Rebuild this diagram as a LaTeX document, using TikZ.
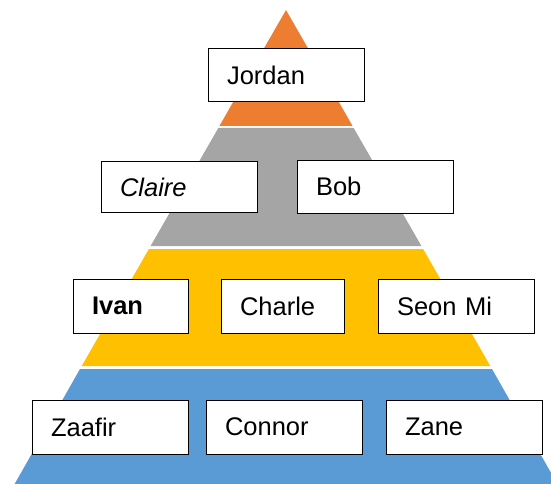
\documentclass[tikz,border=0pt]{standalone}
\usepackage{fontspec}
\setmainfont{Liberation Sans}
\definecolor{tierorange}{HTML}{ED7D31}
\definecolor{tiergray}{HTML}{A5A5A5}
\definecolor{tiergold}{HTML}{FFC000}
\definecolor{tierblue}{HTML}{5B9BD5}
\tikzset{
  namebox/.style={draw=black, line width=1pt, fill=white, inner xsep=19pt,
    inner ysep=0pt, align=left, font=\fontsize{25.5}{30}\selectfont},
}
\begin{document}
\begin{tikzpicture}[x=1pt, y=-1pt]
  \useasboundingbox (0,0) rectangle (551,484);
  \clip (0,0) rectangle (551,484);
  % pyramid tiers, apex at (286,10)
  \fill[tierorange] (286,10) -- (352.6,126) -- (219.4,126) -- cycle;
  \fill[tiergray] (218.3,128) -- (353.7,128) -- (421.4,246) -- (150.6,246) -- cycle;
  \fill[tiergold] (148.9,249) -- (423.1,249) -- (490.3,366) -- (81.7,366) -- cycle;
  \fill[tierblue] (80,369) -- (492,369) -- (557.4,484) -- (14.6,484) -- cycle;
  % name boxes
  \node[namebox, text width=118pt, minimum height=53pt] (jordan) at (286,75.5) {Jordan};
  \node[namebox, text width=118pt, minimum height=51pt] (claire) at (179,187) {\itshape Claire};
  \node[namebox, text width=118pt, minimum height=53pt] (bob) at (375,186.5) {Bob};
  \node[namebox, text width=77pt, minimum height=54pt] (ivan) at (130.5,306) {\bfseries Ivan};
  \node[namebox, text width=85pt, minimum height=54pt] (charle) at (282.5,306) {Charle};
  \node[namebox, text width=118pt, minimum height=54pt] (seonmi) at (456,306) {Seon Mi};
  \node[namebox, text width=118pt, minimum height=54pt] (zaafir) at (110,427) {Zaafir};
  \node[namebox, text width=118pt, minimum height=54pt] (connor) at (284,427) {Connor};
  \node[namebox, text width=118pt, minimum height=54pt] (zane) at (464,427) {Zane};
\end{tikzpicture}
\end{document}
